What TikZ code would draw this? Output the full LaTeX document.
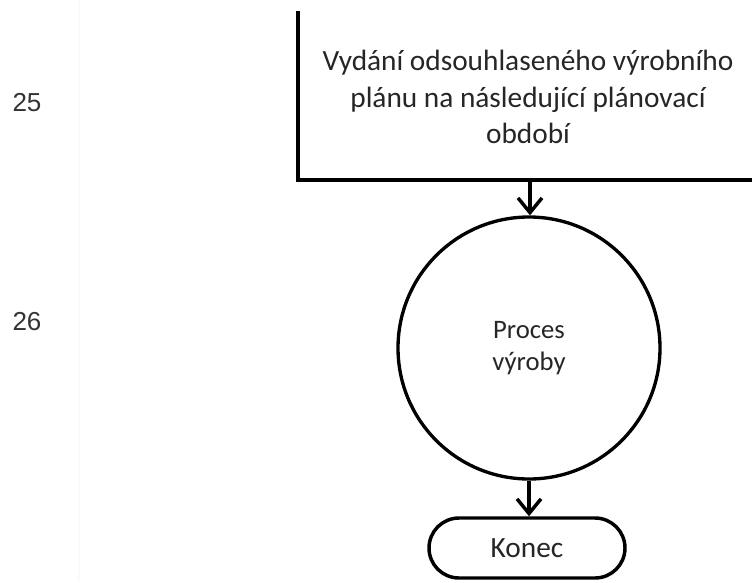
\documentclass[tikz,border=0pt]{standalone}
\usepackage{fontspec}
\setmainfont{Carlito}
\newfontfamily\numfont{Liberation Sans}
\usetikzlibrary{arrows.meta,shapes.misc}
\begin{document}
\begin{tikzpicture}[x=0.75pt,y=-0.75pt,
  edge/.style={draw=black,line width=3pt},
  conn/.style={line width=2.6pt,-{Straight Barb[length=11pt,width=18pt,line width=2.6pt]}},
  linenum/.style={font=\numfont\fontsize{19.5}{23}\selectfont,text=black!80},
  proc/.style={circle,draw=black,line width=2.5pt,minimum size=196.5pt,inner sep=0pt,
    align=center,font=\fontsize{20}{24}\selectfont,text=black!85},
  term/.style={rounded rectangle,draw=black,line width=2.6pt,minimum width=147pt,
    minimum height=45pt,inner sep=0pt,font=\fontsize{22}{26}\selectfont,text=black!85}]
\useasboundingbox (0,0) rectangle (752,582);
\clip (0,0) rectangle (752,582);

% line-number margin
\draw[black!2,line width=0.8pt] (79,0) -- (79,582);
\node[linenum] (n25) at (27,103) {25};
\node[linenum] (n26) at (27,322) {26};

% planning box, only its lower part is visible
\draw[edge] (298,11) -- (298,180) -- (760,180);
\node[align=center,font=\fontsize{22}{27.6}\selectfont,text=black!85] (plan) at (528,97)
  {Vydání odsouhlaseného výrobního\\plánu na následující plánovací\\období};
\coordinate (planout) at (530,180);

\node[proc] (vyroba) at (529,348) {Proces\\výroby};
\node[term] (konec) at (527,548) {Konec};

\draw[conn] (planout) -- (planout |- vyroba.north);
\draw[conn] (vyroba.south) -- (vyroba.south |- konec.north);
\end{tikzpicture}
\end{document}
